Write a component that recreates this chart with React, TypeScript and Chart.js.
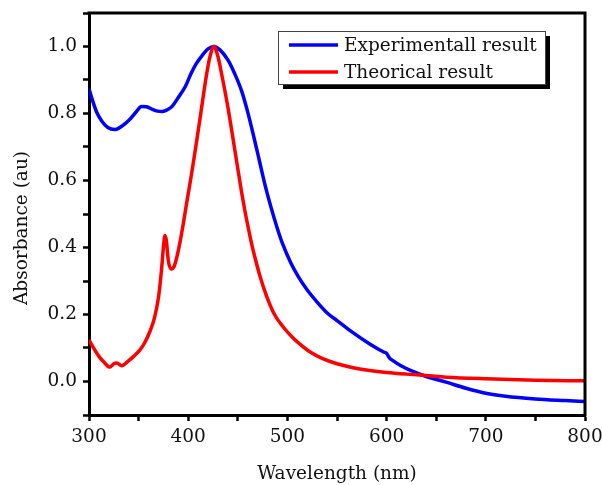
import React, { useEffect, useRef } from "react";
import { Chart, registerables } from "chart.js";

Chart.register(...registerables);

const expWavelengths = [300, 304, 308, 313, 319, 326, 333, 340, 347, 353, 358, 364, 369, 374, 379, 384, 390, 397, 403, 408, 414, 420, 426, 432, 440, 447, 454, 460, 466, 472, 478, 483, 489, 495, 503, 511, 520, 530, 541, 550, 565, 583, 597, 600, 603, 606, 615, 624, 640, 660, 680, 700, 720, 750, 780, 800];
const expValues = [0.874, 0.835, 0.802, 0.777, 0.758, 0.752, 0.762, 0.779, 0.803, 0.821, 0.82, 0.812, 0.807, 0.806, 0.811, 0.822, 0.848, 0.88, 0.92, 0.948, 0.973, 0.993, 1.0, 0.99, 0.96, 0.918, 0.866, 0.804, 0.732, 0.656, 0.58, 0.525, 0.465, 0.412, 0.357, 0.313, 0.273, 0.237, 0.202, 0.182, 0.148, 0.112, 0.088, 0.084, 0.07, 0.063, 0.046, 0.033, 0.015, -0.002, -0.02, -0.035, -0.044, -0.052, -0.057, -0.06];

const theoWavelengths = [300, 305, 310, 315, 321, 325, 328, 333, 340, 345, 351, 356, 361.5, 366, 370, 373, 375, 376.6, 378, 380, 383, 386, 388.5, 392, 395, 398, 402, 405, 408.6, 413.6, 418.6, 422, 426, 430, 433.7, 440, 445.5, 450, 454, 457, 460.6, 464, 467.3, 472, 479, 487, 496, 505, 512, 523, 535, 550, 565, 583, 600, 620, 640, 660, 700, 750, 800];
const theoValues = [0.124, 0.098, 0.075, 0.058, 0.043, 0.053, 0.055, 0.047, 0.062, 0.075, 0.093, 0.115, 0.15, 0.19, 0.25, 0.33, 0.4, 0.436, 0.42, 0.36, 0.336, 0.345, 0.371, 0.42, 0.47, 0.525, 0.595, 0.65, 0.719, 0.819, 0.918, 0.97, 1.0, 0.97, 0.918, 0.819, 0.719, 0.635, 0.562, 0.512, 0.458, 0.41, 0.37, 0.318, 0.255, 0.2, 0.162, 0.132, 0.113, 0.088, 0.069, 0.053, 0.042, 0.033, 0.027, 0.022, 0.018, 0.013, 0.008, 0.004, 0.002];

const seriesLabels = ["Experimentall result", "Theorical result"];
const seriesColors = ["#0000ff", "#ff0000"];
const xTitle = "Wavelength (nm)";
const yTitle = "Absorbance (au)";

const FONT = '"DejaVu Serif", "Liberation Serif", serif';
const FS = 18.5;
const TEXT = "#111";

const framePlugin = {
  id: "frameAndLegend",
  afterDraw(chart: any) {
    const { ctx, chartArea } = chart;
    const { left, right, top, bottom } = chartArea;
    ctx.save();
    ctx.strokeStyle = "#000";
    ctx.lineWidth = 3;
    ctx.beginPath();
    ctx.moveTo(left - 1.5, top);
    ctx.lineTo(right, top);
    ctx.lineTo(right, bottom + 1.5);
    ctx.stroke();

    // y title
    ctx.fillStyle = TEXT;
    ctx.font = FS + "px " + FONT;
    ctx.textAlign = "center";
    ctx.textBaseline = "middle";
    ctx.save();
    ctx.translate(22, 228);
    ctx.rotate(-Math.PI / 2);
    ctx.fillText(yTitle, 0, 0);
    ctx.restore();

    // legend
    const bx = left + 189;
    const by = top + 18;
    const bw = 267;
    const bh = 53;
    ctx.fillStyle = "#000";
    ctx.fillRect(bx + 5, by + 5, bw, bh);
    ctx.fillStyle = "#fff";
    ctx.fillRect(bx, by, bw, bh);
    ctx.strokeStyle = "#444";
    ctx.lineWidth = 1;
    ctx.strokeRect(bx + 0.5, by + 0.5, bw, bh);
    chart.data.datasets.forEach((ds: any, i: number) => {
      const yy = by + 14 + i * 27;
      ctx.strokeStyle = ds.borderColor;
      ctx.lineWidth = 3.5;
      ctx.beginPath();
      ctx.moveTo(bx + 11, yy);
      ctx.lineTo(bx + 60, yy);
      ctx.stroke();
      ctx.fillStyle = TEXT;
      ctx.font = FS + "px " + FONT;
      ctx.textAlign = "left";
      ctx.textBaseline = "middle";
      ctx.fillText(ds.label, bx + 66, yy + 1);
    });
    ctx.restore();
  },
};

export default function App() {
  const canvasRef = useRef<HTMLCanvasElement | null>(null);

  useEffect(() => {
    document.body.style.margin = "0";
    const canvas = canvasRef.current;
    if (!canvas) return;
    const toPts = (xs: number[], ys: number[]) => xs.map((x, i) => ({ x, y: ys[i] }));
    const chart = new Chart(canvas, {
      type: "line",
      data: {
        datasets: [
          {
            label: seriesLabels[0],
            data: toPts(expWavelengths, expValues),
            borderColor: seriesColors[0],
            backgroundColor: seriesColors[0],
            borderWidth: 3.5,
            pointRadius: 0,
            cubicInterpolationMode: "monotone",
            order: 1,
          },
          {
            label: seriesLabels[1],
            data: toPts(theoWavelengths, theoValues),
            borderColor: seriesColors[1],
            backgroundColor: seriesColors[1],
            borderWidth: 3.5,
            pointRadius: 0,
            cubicInterpolationMode: "monotone",
            order: 0,
          },
        ],
      },
      options: {
        responsive: false,
        animation: false,
        layout: { padding: { top: 13, right: 17, left: 0, bottom: 0 } },
        plugins: {
          legend: { display: false },
          tooltip: { enabled: false },
        },
        scales: {
          x: {
            type: "linear",
            min: 300,
            max: 800,
            afterFit: (s: any) => {
              s.height = 70;
              s.paddingLeft = 0;
              s.paddingRight = 0;
            },
            border: { display: true, color: "#000", width: 3 },
            grid: {
              display: true,
              drawOnChartArea: false,
              drawTicks: true,
              tickLength: 6,
              tickWidth: 2.5,
              tickColor: "#000",
            },
            ticks: {
              stepSize: 50,
              autoSkip: false,
              maxRotation: 0,
              padding: 5,
              color: TEXT,
              font: { family: FONT, size: FS },
              callback: (v: any) => (Math.round(v) % 100 === 0 ? String(Math.round(v)) : ""),
            },
            title: {
              display: true,
              text: xTitle,
              color: TEXT,
              font: { family: FONT, size: FS },
              padding: { top: 0, bottom: 0 },
            },
          },
          y: {
            type: "linear",
            min: -0.1,
            max: 1.1,
            afterFit: (s: any) => {
              s.width = 89;
              s.paddingTop = 0;
              s.paddingBottom = 0;
            },
            border: { display: true, color: "#000", width: 3 },
            grid: {
              display: true,
              drawOnChartArea: false,
              drawTicks: true,
              tickLength: 6,
              tickWidth: 2.5,
              tickColor: "#000",
            },
            ticks: {
              stepSize: 0.1,
              autoSkip: false,
              padding: 6,
              color: TEXT,
              font: { family: FONT, size: FS },
              callback: (v: any) => {
                const n = Math.round(Number(v) * 10);
                return n % 2 === 0 && n >= 0 && n <= 10 ? (n / 10).toFixed(1) : "";
              },
            },
          },
        },
      },
      plugins: [framePlugin],
    } as any);
    return () => chart.destroy();
  }, []);

  return (
    <div style={{ width: 602, height: 485, position: "relative", background: "#fff" }}>
      <canvas ref={canvasRef} width={602} height={485} style={{ width: 602, height: 485, display: "block" }} />
    </div>
  );
}
